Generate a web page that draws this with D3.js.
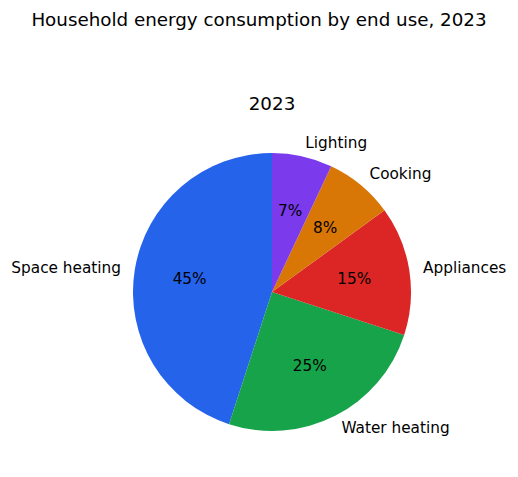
<!DOCTYPE html>
<html>
<head>
<meta charset="utf-8">
<script src="https://cdn.jsdelivr.net/npm/d3@7"></script>
<style>
  body { margin: 0; background: #fff; }
  svg text { font-family: "DejaVu Sans", sans-serif; fill: #000; }
</style>
</head>
<body>
<div id="chart"></div>
<script>
var categories = ["Space heating", "Water heating", "Appliances", "Cooking", "Lighting"];
var shares = [45, 25, 15, 8, 7];
var colors = ["#2563eb", "#16a34a", "#dc2626", "#d97706", "#7c3aed"];

var props = {
  width : 518,
  height : 477,
  cx : 272,
  cy : 292,
  radius : 139
};

var svg = d3.select("#chart").append("svg")
  .attr("width", props.width)
  .attr("height", props.height);

svg.append("text")
  .attr("x", 259).attr("y", 19)
  .attr("text-anchor", "middle")
  .attr("dominant-baseline", "central")
  .style("font-size", "18.3px")
  .text("Household energy consumption by end use, 2023");

svg.append("text")
  .attr("x", props.cx).attr("y", 103)
  .attr("text-anchor", "middle")
  .attr("dominant-baseline", "central")
  .style("font-size", "18.3px")
  .text("2023");

var data = categories.map(function(c, i){ return {name: c, value: shares[i], color: colors[i]}; });

// matplotlib style: start at top, counterclockwise
var pie = d3.pie().sort(null).value(function(d){ return d.value; })
  .startAngle(0).endAngle(-2 * Math.PI);

var arc = d3.arc().innerRadius(0).outerRadius(props.radius);

var g = svg.append("g").attr("transform", "translate(" + props.cx + "," + props.cy + ")");

var slices = pie(data);

g.selectAll(".slice")
  .data(slices)
  .enter().append("path")
  .attr("class", "slice")
  .attr("d", arc)
  .style("fill", function(d){ return d.data.color; });

function mid(d){ return (d.startAngle + d.endAngle) / 2; }

g.selectAll(".label")
  .data(slices)
  .enter().append("text")
  .attr("class", "label")
  .attr("x", function(d){ return Math.sin(mid(d)) * props.radius * 1.1; })
  .attr("y", function(d){ return -Math.cos(mid(d)) * props.radius * 1.1; })
  .attr("text-anchor", function(d){ return Math.sin(mid(d)) > 0 ? "start" : "end"; })
  .attr("dominant-baseline", "central")
  .style("font-size", "15.3px")
  .text(function(d){ return d.data.name; });

g.selectAll(".pct")
  .data(slices)
  .enter().append("text")
  .attr("class", "pct")
  .attr("x", function(d){ return Math.sin(mid(d)) * props.radius * 0.6; })
  .attr("y", function(d){ return -Math.cos(mid(d)) * props.radius * 0.6; })
  .attr("text-anchor", "middle")
  .attr("dominant-baseline", "central")
  .style("font-size", "15.3px")
  .text(function(d){ return d.data.value + "%"; });
</script>
</body>
</html>
